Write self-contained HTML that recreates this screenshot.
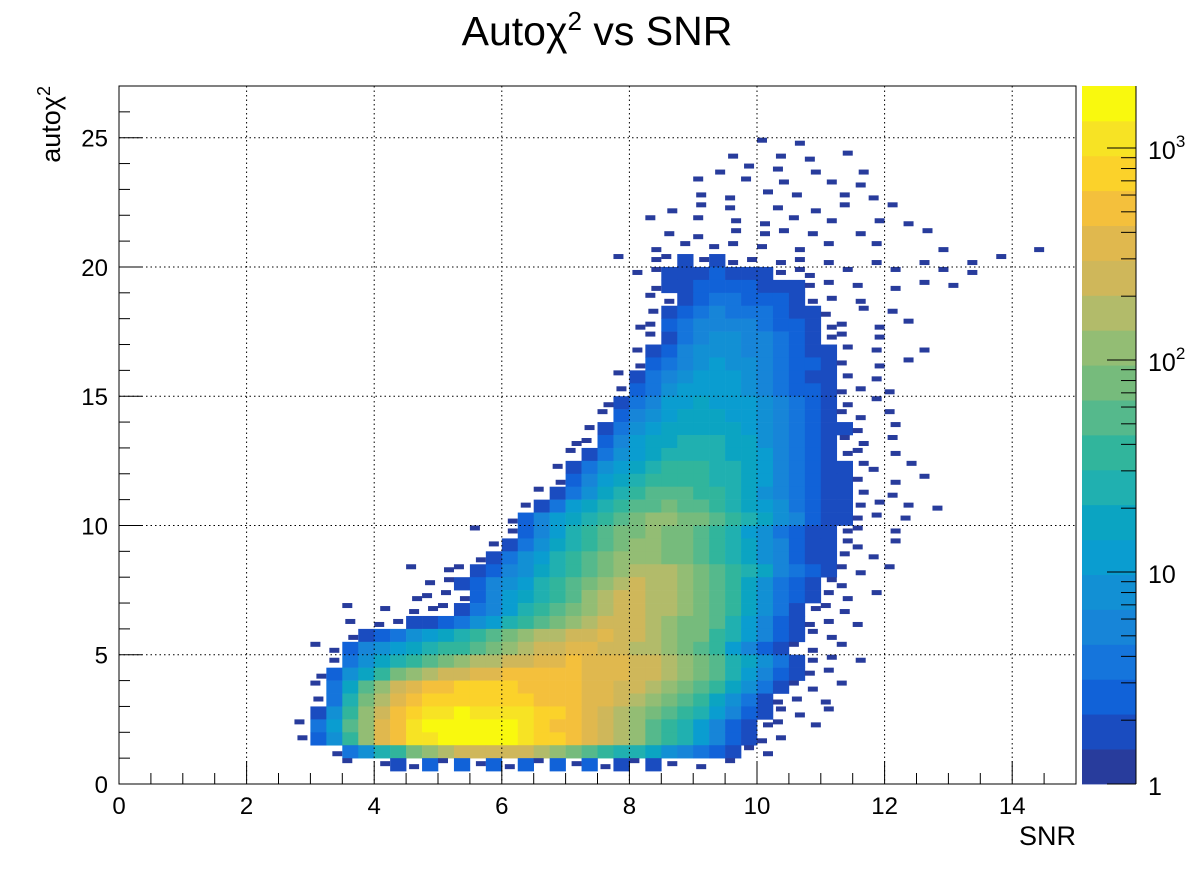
<!DOCTYPE html>
<html>
<head>
<meta charset="utf-8">
<style>
  html,body{margin:0;padding:0;background:#fff;}
  svg{display:block;}
  text{font-family:"Liberation Sans",sans-serif;fill:#000;}
</style>
</head>
<body>
<svg id="chart" width="1196" height="872" viewBox="0 0 1196 872">
  <rect x="0" y="0" width="1196" height="872" fill="#fff"/>
  <text x="597" y="45" font-size="41" text-anchor="middle">Autoχ<tspan dy="-15" font-size="26">2</tspan><tspan dy="15"> vs SNR</tspan></text>
  <g id="cells"></g>
  <g id="grid"></g>
  <g id="axes"></g>
  <g id="palette"></g>
  <text x="1076" y="845" font-size="27" text-anchor="end">SNR</text>
  <text transform="translate(60,86) rotate(-90)" font-size="27" text-anchor="end">autoχ<tspan dy="-10" font-size="18">2</tspan></text>
</svg>
<script>
// ---- data ----
const xTicks = [0,2,4,6,8,10,12,14];
const yTicks = [0,5,10,15,20,25];
const zTickValues = [1,10,100,1000];
const zTickLabels = ["1","10","10","10"];
const zTickExp = ["","","2","3"];
const paletteColors = ["#283c9c","#1a4cc0","#1162d8","#1575dc","#1785d8","#1290d4","#0a9dd0","#0ba4c2","#20b0b0","#31b59c","#55b98c","#76bb7c","#93bd74","#b2bb6a","#cfb75a","#e0b84e","#f4c03c","#fbd22a","#f7e324","#f9f90e"];
// Heatmap: x bins of 0.25 starting at 2.5, y bins of 0.5. Each char = colour level (1-9, A-K = 10-20), '.' = empty
const xBinStart = 2.5;
const xBinWidth = 0.25;
const yBinHeight = 0.5;
const rowY = [24.5,24,23.5,23,22.5,22,21.5,21,20.5,20,19.5,19,18.5,18,17.5,17,16.5,16,15.5,15,14.5,14,13.5,13,12.5,12,11.5,11,10.5,10,9.5,9,8.5,8,7.5,7,6.5,6,5.5,5,4.5,4,3.5,3,2.5,2,1.5,1,0.5];
const rowStart = [30,28,27,26,26,24,23,24,23,21,22,23,23,23,22,23,22,22,21,21,20,20,19,18,18,17,17,16,15,14,12,13,12,8,9,8,4,4,4,2,3,2,2,2,2,1,1,3,4];
const rowCells = [
"1.1",
"1..1.1.1",
"1.1.1.1..1",
"1..1.1..1.1",
"1.1.1.1..1.1",
"1.1.1..1.1.1..1",
"1..1.1.1.1.1..1.1",
"1.1.1.11.1..1...1",
"1.1.11.1.1.1..1...1.....1",
"1.1121211.11.1..1..1..1.1",
"112223222111.1..1..1.1",
"122333322211.1.1.1.1",
"112344333211.1",
"123454443221.1.1",
"11345555433211.1.1",
"1245665543211.1",
"12356665543221.1..1",
"13456766543321.1.1",
"124567776543221.1",
"1346777765433211.1",
"1245778777654321.1",
"13567888776543211.1",
"124678888876543221.1",
"1135788999886543211.1",
"1246789999887543211.1",
"1246789AAA99875432211.1",
"135789AAAA9987543221.1.1",
"124689ABBBAA986543221.1",
"124789ABBCBBA9876432211.1.1",
"135789ABCDDCCBA986532211.1",
"1.13579ABCCDCCBA976432211.1",
"124689ABCDDCCBA986532211.1",
"124679ABCDDDCCBA98653221.1",
"1.11235689ABCDEEEDCBA98543211.1",
"11235679ABCDEFEEDCBA8643211",
"111135789ABDEFFEEDCBA8643211.1",
"1.1.11124579ABCDEFFEEDCBA8642111",
"1.112234679ABCDEFFFEDCCB9753211.1",
"12346789ABCDEEFFGFFEDCCA9753211",
"11356789AABCDEFFGGFFEEDCBA753211.1",
"14689ABCDEEFFGGHGGGFFEDCB9864211.1",
"1368ACDEFFGGHHHHHGGGFFEDCB9753211",
"148BDFGHHIIIIHHHHGGFFEDCBA864211.1",
"149CEGHIIIIIIIHHHGGFEDCBA864211.1",
"26ADFHIJJKJJJJIIHGFEDCBA9753211.1",
"147BDGHJKKKKKKJIHHGFEDBA9753211.1",
"136ADGHJJKKKKKJIIHGFEDBA9753211",
"1469ACDEFFFFFEDCBA9986543211",
"1.1213131313131312121.1.1"
];

// ---- layout ----
const NS = "http://www.w3.org/2000/svg";
const plotL = 119, plotR = 1076, plotT = 86, plotB = 784;
const xMin = 0, xMax = 15, yMin = 0, yMax = 27;
function sx(x){ return plotL + (x - xMin) / (xMax - xMin) * (plotR - plotL); }
function sy(y){ return plotB - (y - yMin) / (yMax - yMin) * (plotB - plotT); }
const zDecadePx = 212;
function sz(v){ return plotB - Math.log10(v) * zDecadePx; }
function levelOf(ch){
  if (ch >= '1' && ch <= '9') return ch.charCodeAt(0) - 48;
  if (ch >= 'A' && ch <= 'K') return ch.charCodeAt(0) - 55;
  return 0;
}
function mk(tag, attrs, parent){
  const el = document.createElementNS(NS, tag);
  for (const k in attrs) el.setAttribute(k, attrs[k]);
  parent.appendChild(el);
  return el;
}

// ---- heatmap cells ----
const gCells = document.getElementById('cells');
rowCells.forEach((str, r) => {
  const y0 = rowY[r];
  for (let i = 0; i < str.length; i++) {
    const lv = levelOf(str[i]);
    if (!lv) continue;
    const x0 = xBinStart + (rowStart[r] + i) * xBinWidth;
    const X1 = sx(x0), X2 = sx(x0 + xBinWidth);
    const Y1 = sy(y0 + yBinHeight), Y2 = sy(y0);
    let attrs;
    if (lv === 1) {
      // sparse single-count bins: draw as a small mark inside the cell
      const ox = ((i + r) % 3) * 3;
      const oy = ((i * 2 + r) % 3) * 3;
      attrs = {x: (X1 + ox).toFixed(2), y: (Y1 + oy).toFixed(2), width: 10, height: 5, fill: paletteColors[0]};
    } else {
      attrs = {x: X1.toFixed(2), y: Y1.toFixed(2), width: (X2 - X1 + 0.3).toFixed(2), height: (Y2 - Y1 + 0.3).toFixed(2), fill: paletteColors[lv - 1]};
    }
    const rect = mk('rect', attrs, gCells);
    
    
  }
});

// ---- grid ----
const gGrid = document.getElementById('grid');
xTicks.forEach(v => {
  if (v === xMin) return;
  const l = mk('line', {x1: sx(v), x2: sx(v), y1: plotT, y2: plotB, stroke: '#000', 'stroke-width': 1, 'stroke-dasharray': '1.5,3'}, gGrid);
  
  
});
yTicks.forEach(v => {
  if (v === yMin) return;
  const l = mk('line', {x1: plotL, x2: plotR, y1: sy(v), y2: sy(v), stroke: '#000', 'stroke-width': 1, 'stroke-dasharray': '1.5,3'}, gGrid);
  
  
});

// ---- axes ----
const gAxes = document.getElementById('axes');
const frame = mk('rect', {x: plotL, y: plotT, width: plotR - plotL, height: plotB - plotT, fill: 'none', stroke: '#000', 'stroke-width': 1}, gAxes);


for (let v = 0; v <= 15.0001; v += 0.5) {
  const major = Math.abs(v / 2 - Math.round(v / 2)) < 1e-6;
  const t = mk('line', {x1: sx(v), x2: sx(v), y1: plotB, y2: plotB - (major ? 23 : 11), stroke: '#000', 'stroke-width': 1}, gAxes);
  
  
}
for (let v = 0; v <= 27.0001; v += 1) {
  const major = v % 5 === 0;
  const t = mk('line', {x1: plotL, x2: plotL + (major ? 23 : 11), y1: sy(v), y2: sy(v), stroke: '#000', 'stroke-width': 1}, gAxes);
  
  
}
xTicks.forEach(v => {
  const t = mk('text', {x: sx(v), y: 814, 'font-size': 24, 'text-anchor': 'middle'}, gAxes);
  t.textContent = String(v);
  
  
});
yTicks.forEach(v => {
  const t = mk('text', {x: 108, y: sy(v) + 9, 'font-size': 24, 'text-anchor': 'end'}, gAxes);
  t.textContent = String(v);
  
  
});

// ---- color scale ----
const gPal = document.getElementById('palette');
const palL = 1082, palR = 1136;
const bandH = (plotB - plotT) / paletteColors.length;
paletteColors.forEach((c, i) => {
  const b = mk('rect', {x: palL, y: (plotB - (i + 1) * bandH).toFixed(2), width: palR - palL, height: (bandH + 0.4).toFixed(2), fill: c}, gPal);
  
  
});
const pAxis = mk('line', {x1: palR, x2: palR, y1: plotT, y2: plotB, stroke: '#000', 'stroke-width': 1}, gPal);


for (let d = 0; d <= 3; d++) {
  for (let m = 1; m <= 9; m++) {
    const v = m * Math.pow(10, d);
    const yy = sz(v);
    if (yy < plotT) continue;
    const major = m === 1;
    const t = mk('line', {x1: palR, x2: palR - (major ? 29 : 15), y1: yy, y2: yy, stroke: '#000', 'stroke-width': 1}, gPal);
    
    
  }
}
zTickValues.forEach((v, i) => {
  const t = mk('text', {x: 1148, y: sz(v) + 11, 'font-size': 25}, gPal);
  t.textContent = zTickLabels[i];
  if (zTickExp[i]) {
    const sp = mk('tspan', {dy: -12, 'font-size': 17}, t);
    sp.textContent = zTickExp[i];
  }
  
  
});
</script>
</body>
</html>
